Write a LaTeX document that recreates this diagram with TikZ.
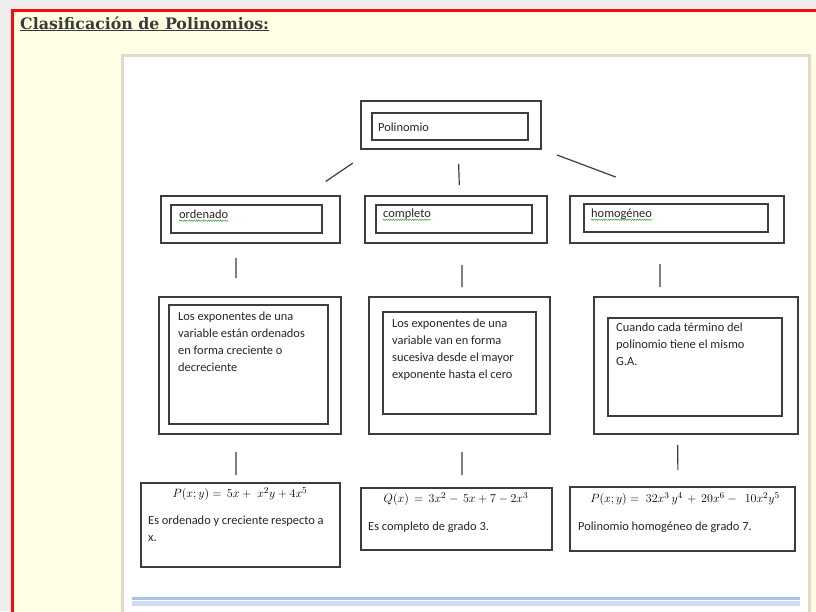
\documentclass[tikz,border=0pt]{standalone}
\usepackage{fontspec}
\setmainfont{Carlito}
\newfontfamily\titlefont{DejaVu Serif}
\usetikzlibrary{calc,decorations.pathmorphing}
\definecolor{bggray}{RGB}{238,238,238}
\definecolor{paleyellow}{RGB}{254,254,228}
\definecolor{framered}{RGB}{250,10,10}
\definecolor{pageshadow}{RGB}{222,220,200}
\definecolor{boxgray}{RGB}{60,60,60}
\definecolor{titlegray}{RGB}{58,58,58}
\definecolor{spellgreen}{RGB}{70,170,80}
\definecolor{rulebluedark}{RGB}{168,196,230}
\definecolor{rulebluelight}{RGB}{204,222,243}

\tikzset{
  outerbox/.style={draw=boxgray, line width=1.8pt, inner sep=0pt, outer sep=0pt, anchor=north west},
  innerbox/.style={draw=boxgray, line width=1.5pt, inner sep=0pt, outer sep=0pt, anchor=north west},
  boxtext/.style={font=\fontsize{12.4}{17}\selectfont, align=left, inner sep=0pt, text=black!85},
  formula/.style={font=\fontsize{12.3}{14}\selectfont, inner sep=0pt},
  link/.style={draw=boxgray, line width=1.2pt},
  spell/.style={draw=spellgreen, line width=0.6pt, decorate, decoration={snake, amplitude=0.6pt, segment length=2.4pt}}
}

\begin{document}
\begin{tikzpicture}[x=1pt,y=-1pt]
\useasboundingbox (0,0) rectangle (816,611);
% sheet and frame
\fill[bggray] (0,0) rectangle (816,611);
\fill[paleyellow] (12,10) rectangle (820,615);
\draw[framered, line width=3pt] (12,615) -- (12,10) -- (820,10);
\node[font=\titlefont\bfseries\fontsize{15.8}{18}\selectfont, text=titlegray, anchor=base west, inner sep=0pt] (title) at (20,29) {\underline{Clasificación de Polinomios:}};
\fill[pageshadow] (121,54) rectangle (811,620);
\fill[white] (124,57) rectangle (808,620);

% top level
\node[outerbox, minimum width=180pt, minimum height=48pt] (polOut) at (361,101) {};
\node[innerbox, minimum width=156pt, minimum height=27pt] (polIn) at (372,113) {};
\node[boxtext, anchor=west] (polTxt) at (378,127) {Polinomio};

% second level
\node[outerbox, minimum width=179pt, minimum height=47pt] (ordOut) at (161,196) {};
\node[innerbox, minimum width=151pt, minimum height=28pt] (ordIn) at (171,205) {};
\node[boxtext, anchor=west] (ordTxt) at (179,214) {ordenado};
\node[outerbox, minimum width=182pt, minimum height=47pt] (compOut) at (365,196) {};
\node[innerbox, minimum width=156pt, minimum height=28pt] (compIn) at (376,205) {};
\node[boxtext, anchor=west] (compTxt) at (383,214) {completo};
\node[outerbox, minimum width=214pt, minimum height=47pt] (homOut) at (570,196) {};
\node[innerbox, minimum width=184pt, minimum height=28pt] (homIn) at (584,204) {};
\node[boxtext, anchor=west] (homTxt) at (591,214) {homogéneo};
\draw[spell] ([yshift=-2.5pt]ordTxt.base west) -- ([yshift=-2.5pt]ordTxt.base east);
\draw[spell] ([yshift=-2.5pt]compTxt.base west) -- ([yshift=-2.5pt]compTxt.base east);
\draw[spell] ([yshift=-2.5pt]homTxt.base west) -- ([yshift=-2.5pt]homTxt.base east);

% definitions
\node[outerbox, minimum width=182pt, minimum height=137pt] (ordDescOut) at (159,297) {};
\node[innerbox, minimum width=159pt, minimum height=119pt] (ordDescIn) at (169,305) {};
\node[boxtext, anchor=north west] (ordDescTxt) at (178,312) {Los exponentes de una\\variable están ordenados\\en forma creciente o\\decreciente};
\node[outerbox, minimum width=181pt, minimum height=137pt] (compDescOut) at (369,297) {};
\node[innerbox, minimum width=153pt, minimum height=102pt] (compDescIn) at (383,312) {};
\node[boxtext, anchor=north west] (compDescTxt) at (392,319) {Los exponentes de una\\variable van en forma\\sucesiva desde el mayor\\exponente hasta el cero};
\node[outerbox, minimum width=204pt, minimum height=137pt] (homDescOut) at (594,297) {};
\node[innerbox, minimum width=174pt, minimum height=98pt] (homDescIn) at (608,318) {};
\node[boxtext, anchor=north west] (homDescTxt) at (616,323) {Cuando cada término del\\polinomio tiene el mismo\\G.A.};

% examples
\node[outerbox, minimum width=199pt, minimum height=84pt] (ordEx) at (141,483) {};
\node[formula] (ordExEq) at (240,494) {$P(x;y) = \,5x+\; x^2y+4x^5$};
\node[boxtext, anchor=north west] (ordExTxt) at (148,516) {Es ordenado y creciente respecto a\\x.};
\node[outerbox, minimum width=191pt, minimum height=62pt] (compEx) at (361,488) {};
\node[formula] (compExEq) at (456,499) {$Q(x) \,=\, 3x^2 - \,5x+7-2x^3$};
\node[boxtext, anchor=west] (compExTxt) at (368,527) {Es completo de grado 3.};
\node[outerbox, minimum width=225pt, minimum height=64pt] (homEx) at (570,487) {};
\node[formula] (homExEq) at (685,499) {$P(x;y) = \;32x^3\,y^4 \,+\, 20x^6 -\; \,10x^2y^5$};
\node[boxtext, anchor=west] (homExTxt) at (578,527) {Polinomio homogéneo de grado 7.};

% connectors
\draw[link, shorten <=25pt, shorten >=26pt] ($(polOut.south west)!0.07!(polOut.south east)$) -- ($(ordOut.north west)!0.8!(ordOut.north east)$);
\draw[link, shorten <=15pt, shorten >=11pt] ($(polOut.south west)!0.54!(polOut.south east)$) -- ($(compOut.north west)!0.52!(compOut.north east)$);
\draw[link, shorten <=17pt, shorten >=54pt] (polOut.south east) -- ($(homOut.north west)!0.45!(homOut.north east)$);
\draw[link, shorten <=15pt, shorten >=19pt] ($(ordOut.south west)!0.419!(ordOut.south east)$) -- ($(ordDescOut.north west)!0.423!(ordDescOut.north east)$);
\draw[link, shorten <=22pt, shorten >=10pt] ($(compOut.south west)!0.533!(compOut.south east)$) -- ($(compDescOut.north west)!0.514!(compDescOut.north east)$);
\draw[link, shorten <=21pt, shorten >=10pt] ($(homOut.south west)!0.42!(homOut.south east)$) -- ($(homDescOut.north west)!0.324!(homDescOut.north east)$);
\draw[link, shorten <=18pt, shorten >=8pt] ($(ordDescOut.south west)!0.423!(ordDescOut.south east)$) -- ($(ordEx.north west)!0.477!(ordEx.north east)$);
\draw[link, shorten <=18pt, shorten >=13pt] ($(compDescOut.south west)!0.514!(compDescOut.south east)$) -- ($(compEx.north west)!0.529!(compEx.north east)$);
\draw[link, shorten <=11pt, shorten >=17pt] ($(homDescOut.south west)!0.41!(homDescOut.south east)$) -- ($(homEx.north west)!0.48!(homEx.north east)$);

% rule at the foot
\fill[rulebluedark] (132,597) rectangle (800,600);
\fill[rulebluelight] (132,601) rectangle (800,606);
\end{tikzpicture}
\end{document}
